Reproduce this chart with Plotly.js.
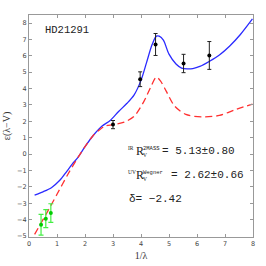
<!DOCTYPE html>
<html><head><meta charset="utf-8">
<script src="https://cdn.plot.ly/plotly-3.0.1.min.js"></script>
<style>html,body{margin:0;padding:0;background:#fff}#c{width:266px;height:266px}</style>
</head><body><div id="c"></div>
<script>
const blueX = [0.2,0.5,0.8,1.1,1.35,1.55,1.75,2.0,2.3,2.6,2.9,3.2,3.5,3.75,4.0,4.2,4.4,4.55,4.65,4.8,5.0,5.25,5.45,5.65,5.85,6.1,6.45,6.8,7.17,7.55,7.98];
const blueY = [-2.5,-2.3,-2.05,-1.6,-1.05,-0.6,-0.2,0.45,1.15,1.7,2.05,2.6,3.1,3.6,4.5,5.6,6.7,7.2,7.2,6.95,6.1,5.5,5.25,5.2,5.22,5.35,5.67,6.05,6.6,7.3,8.25];
const redX = [0.2,0.6,1.0,1.4,1.75,2.0,2.3,2.5,2.7,3.0,3.4,3.75,4.1,4.35,4.55,4.7,4.9,5.2,5.6,6.2,6.8,7.4,7.98];
const redY = [-4.9,-3.7,-2.45,-1.2,-0.2,0.45,1.15,1.45,1.7,1.8,1.95,2.3,3.2,4.1,4.7,4.45,3.84,2.93,2.42,2.27,2.36,2.73,3.05];
const uvX = [3.0,3.97,4.52,5.52,6.44];
const uvY = [1.8,4.57,6.69,5.53,6.02];
const uvErr = [0.25,0.45,0.67,0.56,0.85];
const irX = [0.43,0.6,0.78];
const irY = [-4.31,-3.94,-3.6];
const irErr = [0.63,0.55,0.57];
const starName = "HD21291";
const rvPrefix = ["IR", "UV"];
const rvSup = ["2MASS", "Wegner"];
const rvValues = ["= 5.13±0.80", "= 2.62±0.66"];
const rvValueX = [4.68, 5.0];
const rowY = [0.18, -1.28];
const deltaText = "δ= −2.42";
const deltaY = -2.74;

const traces = [
  {x: blueX, y: blueY, mode:'lines', line:{color:'#2a2aff', width:1.3, shape:'spline', smoothing:0.8}, hoverinfo:'skip'},
  {x: redX, y: redY, mode:'lines', line:{color:'#ff3030', width:1.3, dash:'7px,4px', shape:'spline', smoothing:0.8}, hoverinfo:'skip'},
  {x: uvX, y: uvY, mode:'markers', marker:{color:'#000', size:4},
   error_y:{type:'data', array: uvErr, visible:true, color:'#222', thickness:1, width:2}},
  {x: irX, y: irY, mode:'markers', marker:{color:'#00cc00', size:4},
   error_y:{type:'data', array: irErr, visible:true, color:'#44ee44', thickness:1.2, width:2.5}}
];

const axisCommon = {
  showgrid:false, zeroline:false, showline:true, linecolor:'#999', linewidth:1, mirror:'ticks',
  ticks:'inside', ticklen:3, tickcolor:'#999', tickwidth:1,
  tickfont:{family:'DejaVu Sans', size:6.5, color:'#444'}, dtick:1
};
const txtFont = (s)=>({family:'Liberation Mono', size:s, color:'#222'});
const serifFont = (s)=>({family:'Liberation Serif', size:s, color:'#222'});
const ann = (x,y,text,font,xs,ys)=>({x:x, y:y, xref:'x', yref:'y', xanchor:'left', yanchor:'middle',
  text:text, showarrow:false, font:font, xshift:xs||0, yshift:ys||0});

const annotations = [];
for (let i=0;i<2;i++){
  annotations.push(ann(3.5, rowY[i], rvPrefix[i], serifFont(5.5), -1, 3));
  annotations.push(ann(3.5, rowY[i], 'R', serifFont(12), 7, 0));
  annotations.push(ann(3.5, rowY[i], 'V', serifFont(5.5), 14, -4));
  annotations.push(ann(3.5, rowY[i], rvSup[i], txtFont(5.5), 14, 3));
  annotations.push(ann(rvValueX[i], rowY[i], rvValues[i], txtFont(11)));
}
annotations.push(ann(3.5, deltaY, deltaText, txtFont(11)));
annotations.push(ann(0.5, 7.6, starName, txtFont(10.5)));

const layout = {
  width:266, height:266, showlegend:false,
  margin:{l:29, r:13, t:15, b:29},
  paper_bgcolor:'#fff', plot_bgcolor:'#fff',
  xaxis: Object.assign({}, axisCommon, {range:[0,8], tick0:0,
    title:{text:'1/λ', font:{family:'Liberation Serif', size:10, color:'#333'}, standoff:5}}),
  yaxis: Object.assign({}, axisCommon, {range:[-5.06,8.49], tick0:0,
    title:{text:'ε(λ−V)', font:{family:'Liberation Serif', size:10, color:'#333'}, standoff:4}}),
  annotations: annotations
};
Plotly.newPlot('c', traces, layout, {staticPlot:true, displayModeBar:false});
</script></body></html>
